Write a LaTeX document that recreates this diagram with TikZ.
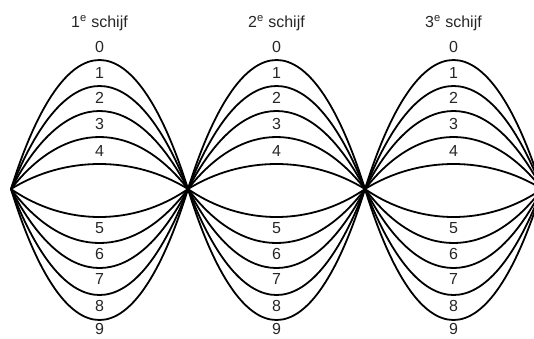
\documentclass[tikz,border=0pt]{standalone}
\usepackage{fontspec}
\setmainfont{Liberation Sans}
\usetikzlibrary{calc}
\begin{document}
\begin{tikzpicture}[x=1pt,y=-1pt,
  curve/.style={line width=1.8pt, line join=round},
  num/.style={font=\fontsize{16}{16}\selectfont, inner sep=0pt, text=black!85},
  ttl/.style={font=\fontsize{16}{16}\selectfont, inner sep=0pt, text=black!85}]
\useasboundingbox (0,0) rectangle (534,338);
\clip (0,0) rectangle (534,338);
\foreach \i/\x in {0/11,1/188,2/365,3/542} \coordinate (p\i) at (\x,189);
\foreach \s/\t/\c in {0/1/99.5,1/2/276.5,2/3/453.5} {
  \node[ttl] (t\t) at (\c,23) {\t\textsuperscript{e} schijf};
  \foreach \k/\py in {0/60,1/86,2/111,3/137,4/164} {
    \pgfmathsetmacro{\d}{(\py-189)/0.75}
    \draw[curve] (p\s) .. controls ($(p\s)+(54,\d)$) and ($(p\t)+(-54,\d)$) .. (p\t);
    \node[num] (n\t-\k) at (\c,\py-13) {\k};
  }
  \foreach \k/\py/\ly in {5/217/228,6/243/254,7/268/279,8/295/306,9/320/329} {
    \pgfmathsetmacro{\d}{(\py-189)/0.75}
    \draw[curve] (p\s) .. controls ($(p\s)+(54,\d)$) and ($(p\t)+(-54,\d)$) .. (p\t);
    \node[num] (n\t-\k) at (\c,\ly) {\k};
  }
}
\end{tikzpicture}
\end{document}
